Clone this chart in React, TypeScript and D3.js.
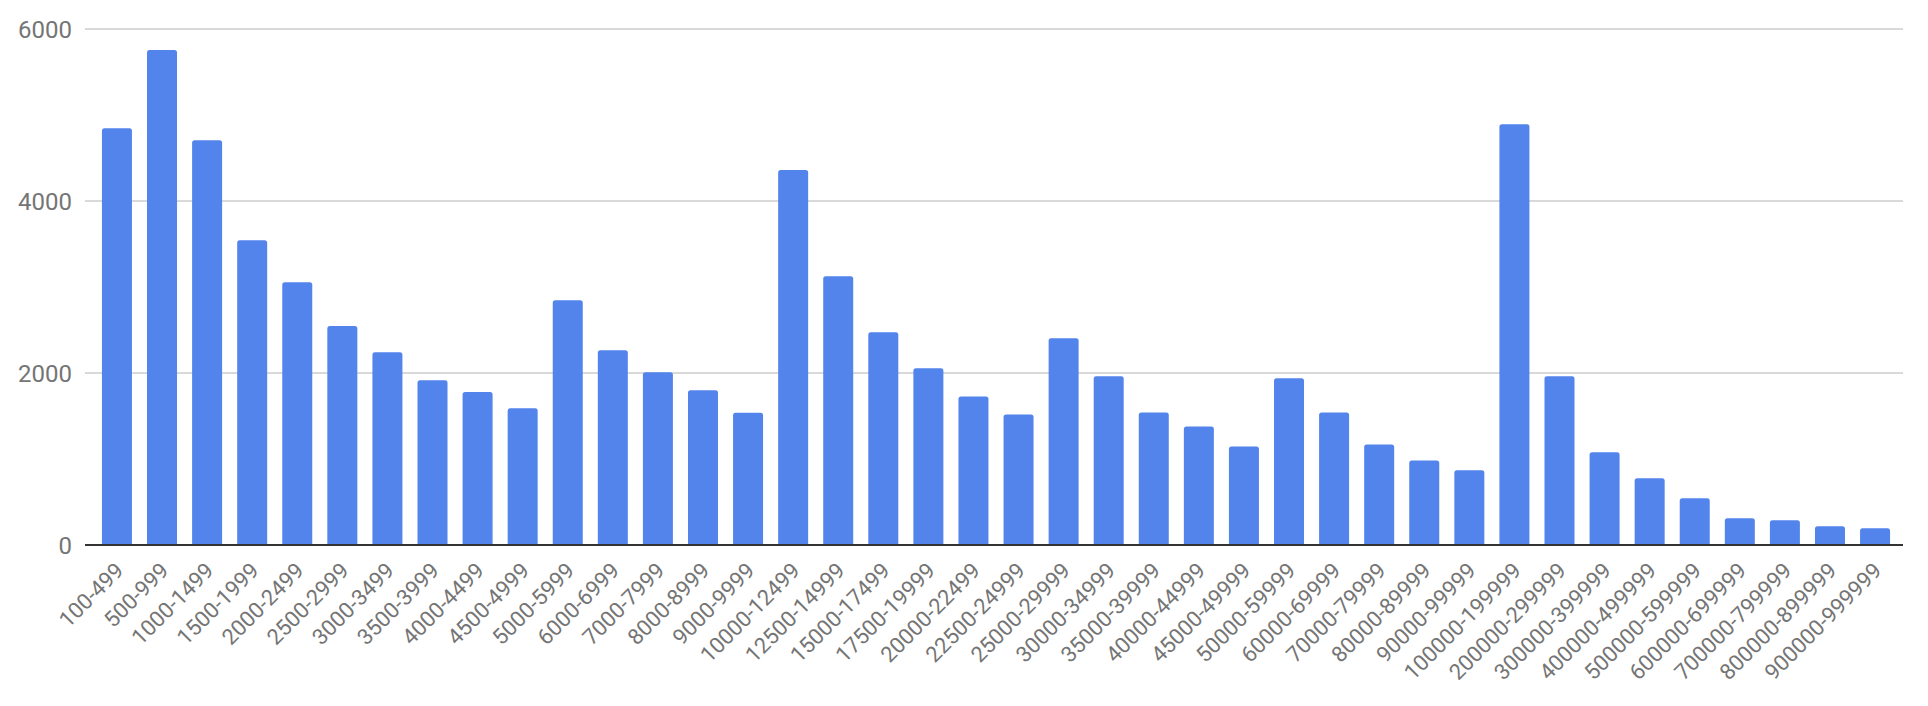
import React from "react";
import * as d3 from "d3";

const categories: string[] = [
  "100-499", "500-999", "1000-1499", "1500-1999", "2000-2499", "2500-2999",
  "3000-3499", "3500-3999", "4000-4499", "4500-4999", "5000-5999", "6000-6999",
  "7000-7999", "8000-8999", "9000-9999", "10000-12499", "12500-14999",
  "15000-17499", "17500-19999", "20000-22499", "22500-24999", "25000-29999",
  "30000-34999", "35000-39999", "40000-44999", "45000-49999", "50000-59999",
  "60000-69999", "70000-79999", "80000-89999", "90000-99999", "100000-199999",
  "200000-299999", "300000-399999", "400000-499999", "500000-599999",
  "600000-699999", "700000-799999", "800000-899999", "900000-999999",
];

const values: number[] = [
  4845, 5755, 4707, 3543, 3054, 2547, 2240, 1915, 1779, 1589, 2845, 2264,
  2008, 1800, 1538, 4361, 3126, 2474, 2054, 1728, 1518, 2404, 1961, 1542,
  1379, 1146, 1938, 1542, 1169, 984, 868, 4891, 1961, 1078, 775, 543, 310,
  287, 217, 194,
];

const yTicks: number[] = [0, 2000, 4000, 6000];

const W = 1928;
const H = 706;
const BAR = "#5384ec";
const TEXT = "#757575";
const FONT = "Roboto, 'Noto Sans', sans-serif";

function topRounded(x: number, y: number, w: number, h: number, r: number) {
  const rr = Math.min(r, h, w / 2);
  const p = d3.path();
  p.moveTo(x, y + h);
  p.lineTo(x, y + rr);
  p.arcTo(x, y, x + rr, y, rr);
  p.lineTo(x + w - rr, y);
  p.arcTo(x + w, y, x + w, y + rr, rr);
  p.lineTo(x + w, y + h);
  p.closePath();
  return p.toString();
}

export default function App() {
  const x = d3
    .scaleBand<string>()
    .domain(categories)
    .range([88.6, 1903.4])
    .paddingInner(0.3345)
    .paddingOuter(0.296);
  const y = d3.scaleLinear().domain([0, 6000]).range([545, 29]);
  const gx1 = 85;
  const gx2 = 1903;

  return (
    <svg
      width={W}
      height={H}
      style={{ position: "absolute", left: 0, top: 0, background: "#fff" }}
    >
      {yTicks.map((t) => (
        <g key={t}>
          {t !== 0 && (
            <line
              x1={gx1}
              x2={gx2}
              y1={y(t)}
              y2={y(t)}
              stroke="#cccccc"
              strokeWidth={1.5}
            />
          )}
          <text
            x={72}
            y={y(t)}
            dy="0.36em"
            textAnchor="end"
            fontFamily={FONT}
            fontSize={24}
            fill={TEXT}
          >
            {t}
          </text>
        </g>
      ))}
      {categories.map((c, i) => {
        const bx = x(c)!;
        const bw = x.bandwidth();
        const by = y(values[i]);
        return (
          <path
            key={c}
            d={topRounded(bx, by, bw, y(0) - by, 2.5)}
            fill={BAR}
          />
        );
      })}
      <line
        x1={gx1}
        x2={gx2}
        y1={y(0)}
        y2={y(0)}
        stroke="#333333"
        strokeWidth={2}
      />
      {categories.map((c) => {
        const cx = x(c)! + x.bandwidth() / 2;
        return (
          <text
            key={c}
            transform={`translate(${cx + 8},${y(0) + 27}) rotate(-45)`}
            textAnchor="end"
            fontFamily={FONT}
            fontSize={22}
            fill={TEXT}
          >
            {c}
          </text>
        );
      })}
    </svg>
  );
}
